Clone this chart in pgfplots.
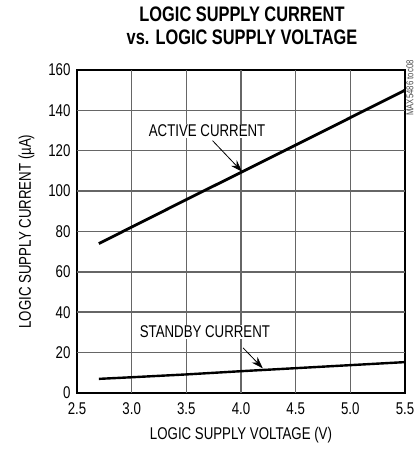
\documentclass[border=0pt]{standalone}
\usepackage{pgfplots}
\pgfplotsset{compat=1.18}
\usepackage{fontspec}
\setmainfont{Liberation Sans}[FakeStretch=0.78]
\usetikzlibrary{arrows.meta}

\begin{document}
\begin{tikzpicture}
\begin{axis}[
    at={(0pt,0pt)}, anchor=south west,
    scale only axis, width=328pt, height=323pt,
    xmin=2.5, xmax=5.5, ymin=0, ymax=160,
    xtick={2.5,3.0,...,5.5}, ytick={0,20,...,160},
    xticklabels={2.5,3.0,3.5,4.0,4.5,5.0,5.5},
    /pgf/number format/assume math mode=true,
    tick align=inside,
    tick style={line width=1pt, color=darkgray},
    axis line style={line width=2.4pt},
    tick label style={font=\fontsize{17}{20}\selectfont},
    xticklabel style={yshift=-6pt},
    yticklabel style={xshift=-3pt},
    label style={font=\fontsize{17}{20}\selectfont},
    xlabel={LOGIC SUPPLY VOLTAGE (V)},
    ylabel={LOGIC SUPPLY CURRENT (\textmu A)},
    xlabel style={yshift=-6pt},
    ylabel style={yshift=7pt},
    grid line/.style={line width=1.5pt, color=black!60, forget plot},
]
% grid lines
\addplot[grid line] coordinates {(3.0,0) (3.0,160)};
\addplot[grid line] coordinates {(3.5,0) (3.5,160)};
\addplot[grid line] coordinates {(4.0,0) (4.0,160)};
\addplot[grid line] coordinates {(4.5,0) (4.5,160)};
\addplot[grid line] coordinates {(5.0,0) (5.0,160)};
\addplot[grid line] coordinates {(2.5,20) (5.5,20)};
\addplot[grid line] coordinates {(2.5,40) (5.5,40)};
\addplot[grid line] coordinates {(2.5,60) (5.5,60)};
\addplot[grid line] coordinates {(2.5,80) (5.5,80)};
\addplot[grid line] coordinates {(2.5,100) (5.5,100)};
\addplot[grid line] coordinates {(2.5,120) (5.5,120)};
\addplot[grid line] coordinates {(2.5,140) (5.5,140)};
% active current
\addplot[line width=2.8pt, black] coordinates {
    (2.7,74) (3.0,82.2) (3.5,95.8) (4.0,109.3) (4.5,122.8) (5.0,136.4) (5.5,150)
};
% standby current
\addplot[line width=2.4pt, black] coordinates {
    (2.7,7.0) (3.0,7.8) (3.5,9.2) (4.0,10.8) (4.5,12.3) (5.0,13.8) (5.5,15.3)
};
\node[fill=white, inner sep=1pt, font=\fontsize{17}{20}\selectfont] at (axis cs:3.69,130) {ACTIVE CURRENT};
\draw[line width=0.8pt, -{Stealth[length=12pt,width=8pt]}] (axis cs:3.74,125) -- (axis cs:4.01,109.6);
\node[fill=white, inner sep=1pt, font=\fontsize{17}{20}\selectfont] at (axis cs:3.67,30.2) {STANDBY CURRENT};
\draw[line width=0.8pt, -{Stealth[length=12pt,width=8pt]}] (axis cs:4.02,22.3) -- (axis cs:4.2,12.2);
\end{axis}
\node[align=center, font=\fontsize{21}{23}\selectfont\bfseries] at (165pt,367pt) {LOGIC SUPPLY CURRENT\\vs. LOGIC SUPPLY VOLTAGE};
\node[rotate=90, font=\fontsize{10}{12}\selectfont, text=black!70] at (333pt,305pt) {MAX5486 toc08};
\path (-77pt,-65pt) rectangle (340pt,393pt);
\end{tikzpicture}
\end{document}
